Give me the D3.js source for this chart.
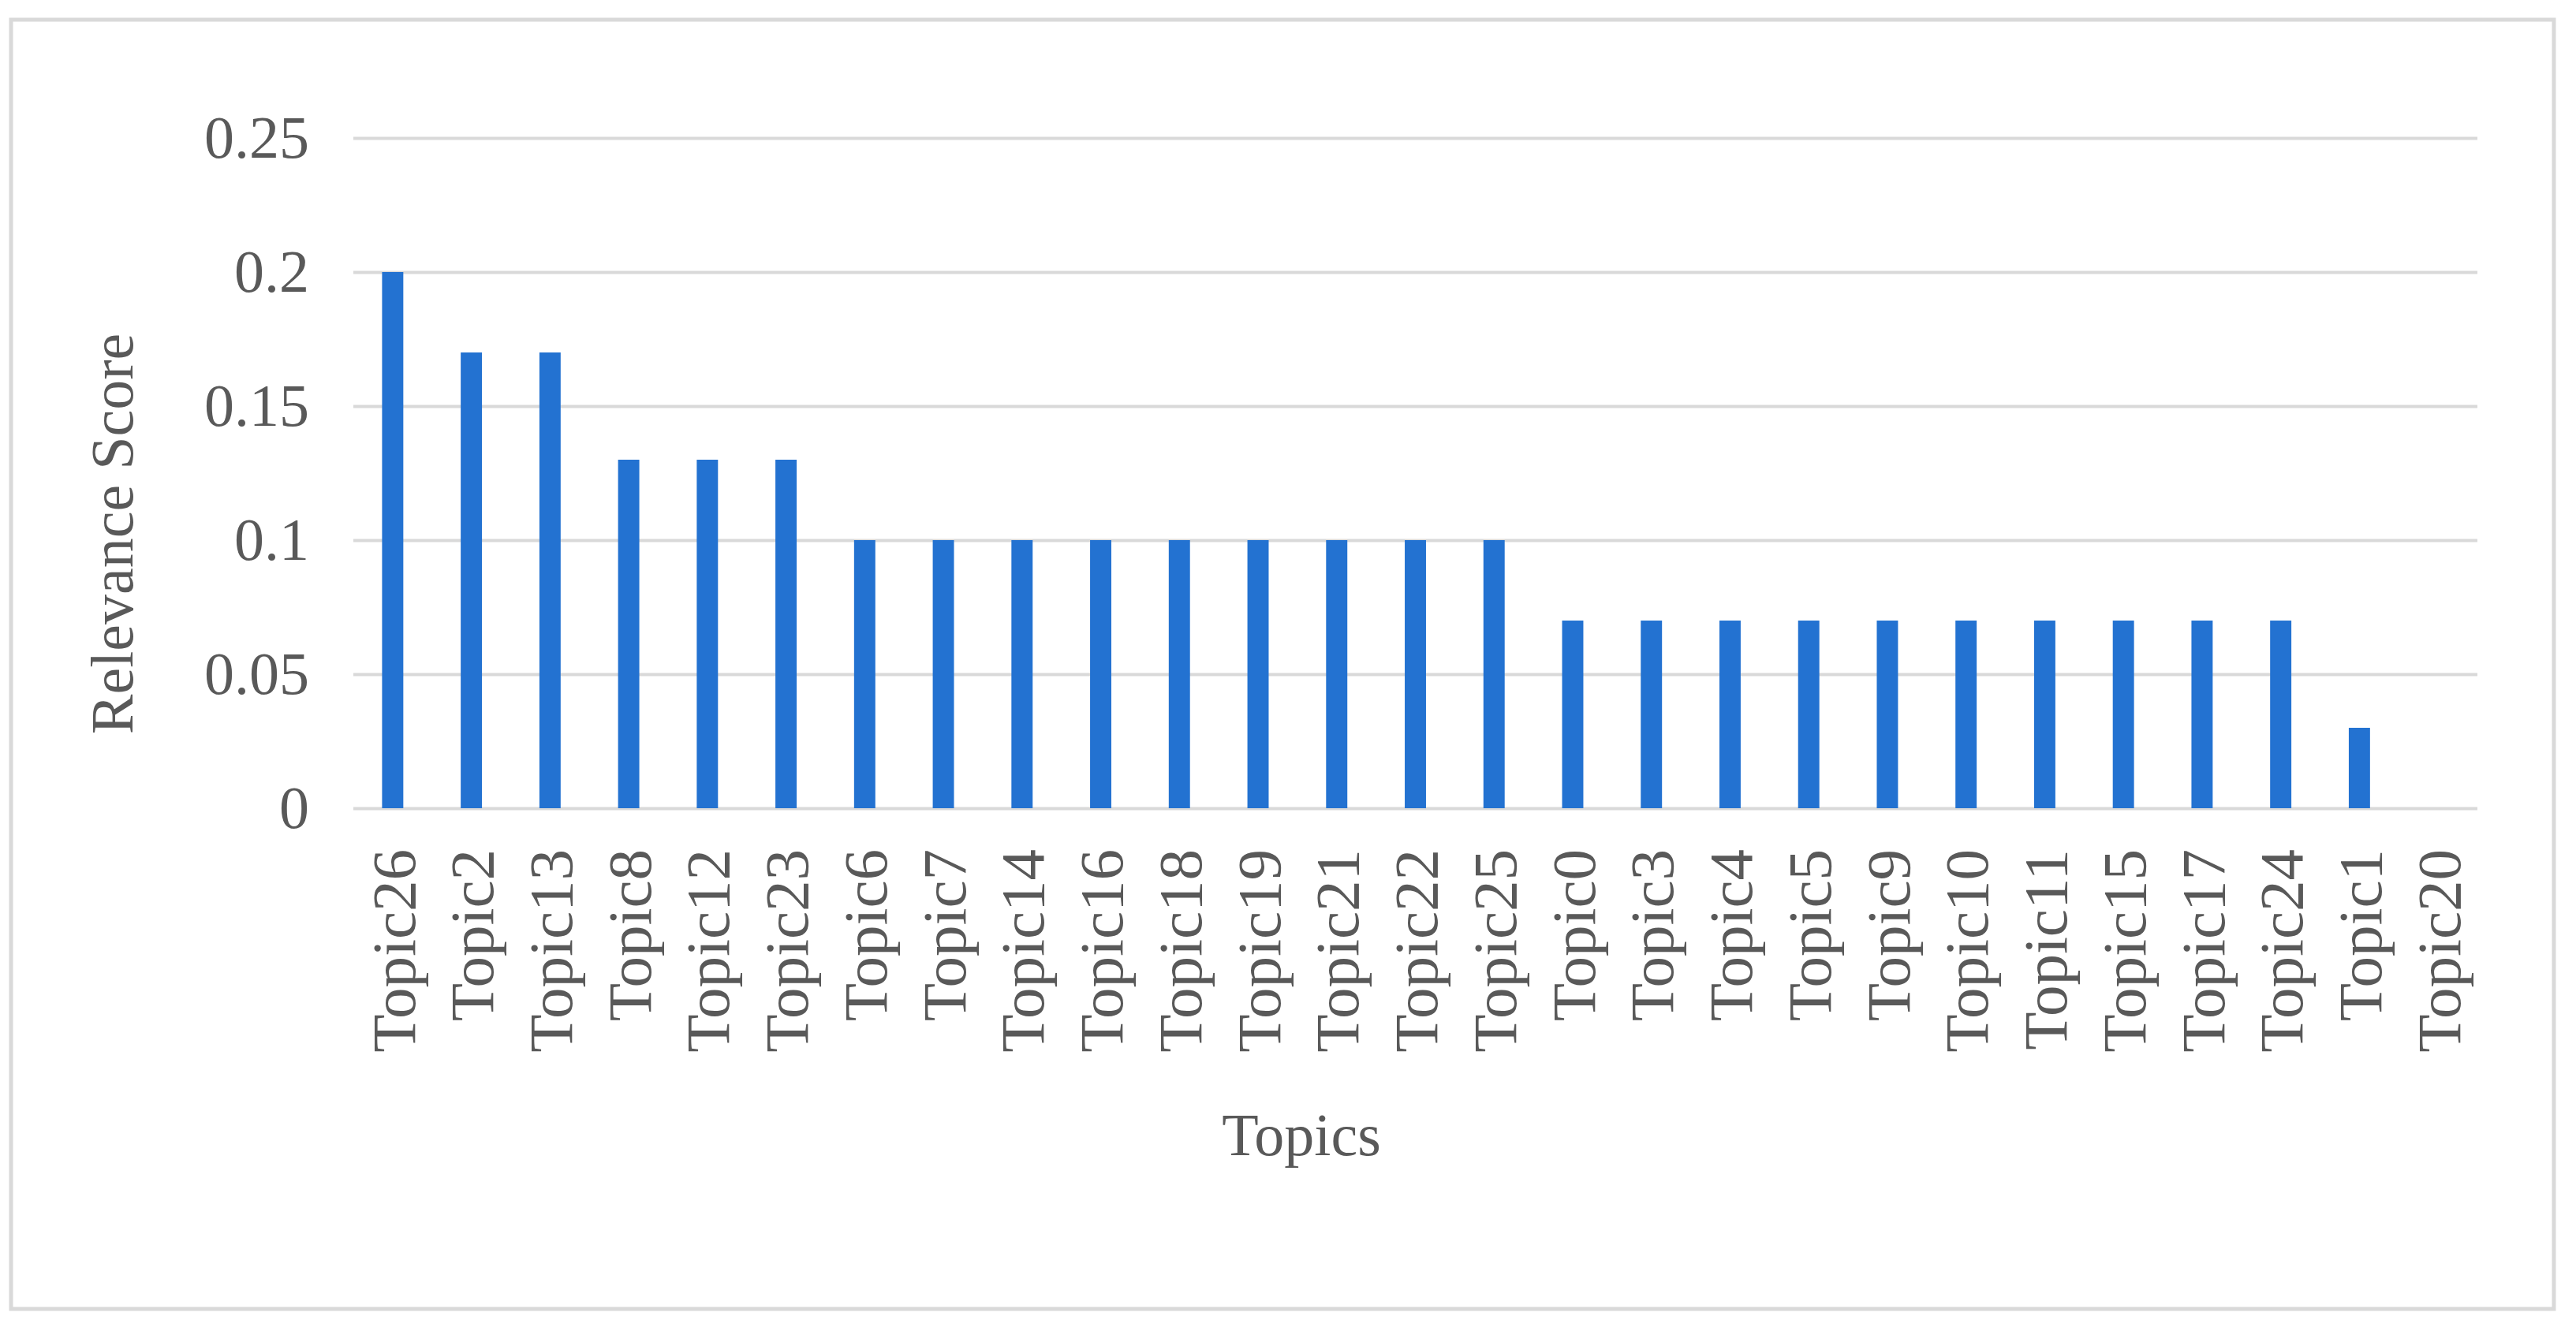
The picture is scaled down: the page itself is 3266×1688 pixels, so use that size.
<!DOCTYPE html>
<html>
<head>
<meta charset="utf-8">
<script src="https://cdn.jsdelivr.net/npm/d3@7"></script>
<style>
  body { margin: 0; background: #fff; }
  text { font-family: "Liberation Serif", "Times New Roman", serif; fill: #595959; }
</style>
</head>
<body>
<div id="chart"></div>
<script>
// topics sorted by relevance score
var topics = ["Topic26", "Topic2", "Topic13", "Topic8", "Topic12", "Topic23",
    "Topic6", "Topic7", "Topic14", "Topic16", "Topic18", "Topic19", "Topic21", "Topic22", "Topic25",
    "Topic0", "Topic3", "Topic4", "Topic5", "Topic9", "Topic10", "Topic11", "Topic15", "Topic17", "Topic24",
    "Topic1", "Topic20"];
var scores = [0.2, 0.17, 0.17, 0.13, 0.13, 0.13,
    0.1, 0.1, 0.1, 0.1, 0.1, 0.1, 0.1, 0.1, 0.1,
    0.07, 0.07, 0.07, 0.07, 0.07, 0.07, 0.07, 0.07, 0.07, 0.07,
    0.03, 0];
var yTicks = [0, 0.05, 0.1, 0.15, 0.2, 0.25];

let width = 3266, height = 1688;
let plotLeft = 448, plotRight = 3141, plotTop = 175, plotBottom = 1025;

let svg = d3.select("#chart").append("svg")
    .attr("width", width).attr("height", height);

// outer frame
svg.append("rect")
    .attr("x", 14).attr("y", 25)
    .attr("width", 3224).attr("height", 1635)
    .attr("fill", "#fff")
    .attr("stroke", "#d9d9d9").attr("stroke-width", 5);

let x = d3.scaleBand()
    .domain(topics)
    .range([plotLeft, plotRight])
    .paddingInner(0.73)
    .paddingOuter(0.365);

let y = d3.scaleLinear()
    .domain([0, 0.25])
    .range([plotBottom, plotTop]);

// gridlines + y labels
let yAxis = d3.axisLeft(y)
    .tickValues(yTicks)
    .tickSize(-(plotRight - plotLeft))
    .tickPadding(56)
    .tickFormat(d => d3.format("")(d));

let yg = svg.append("g")
    .attr("transform", "translate(" + plotLeft + ",0)")
    .call(yAxis);
yg.select(".domain").remove();
yg.selectAll(".tick line").attr("stroke", "#d9d9d9").attr("stroke-width", 4);
yg.selectAll(".tick text")
    .attr("font-size", 76)
    .attr("fill", "#595959");

// bars
svg.selectAll("rect.bar").data(scores).enter()
    .append("rect")
    .attr("class", "bar")
    .attr("x", (d, i) => x(topics[i]))
    .attr("y", d => y(d))
    .attr("width", x.bandwidth())
    .attr("height", d => plotBottom - y(d))
    .attr("fill", "#2372d1");

// x labels, rotated
let xAxis = d3.axisBottom(x).tickSize(0).tickPadding(0);
let xg = svg.append("g")
    .attr("transform", "translate(0," + plotBottom + ")")
    .call(xAxis);
xg.select(".domain").remove();
xg.selectAll(".tick text")
    .attr("font-size", 79)
    .attr("fill", "#595959")
    .attr("text-anchor", "end")
    .attr("transform", "rotate(-90)")
    .attr("x", -52)
    .attr("y", 0)
    .attr("dy", "0.35em");

// axis titles
svg.append("text")
    .attr("transform", "translate(168,677) rotate(-90)")
    .attr("text-anchor", "middle")
    .attr("font-size", 76)
    .text("Relevance Score");

svg.append("text")
    .attr("x", 1650)
    .attr("y", 1465)
    .attr("text-anchor", "middle")
    .attr("font-size", 76)
    .text("Topics");
</script>
</body>
</html>
